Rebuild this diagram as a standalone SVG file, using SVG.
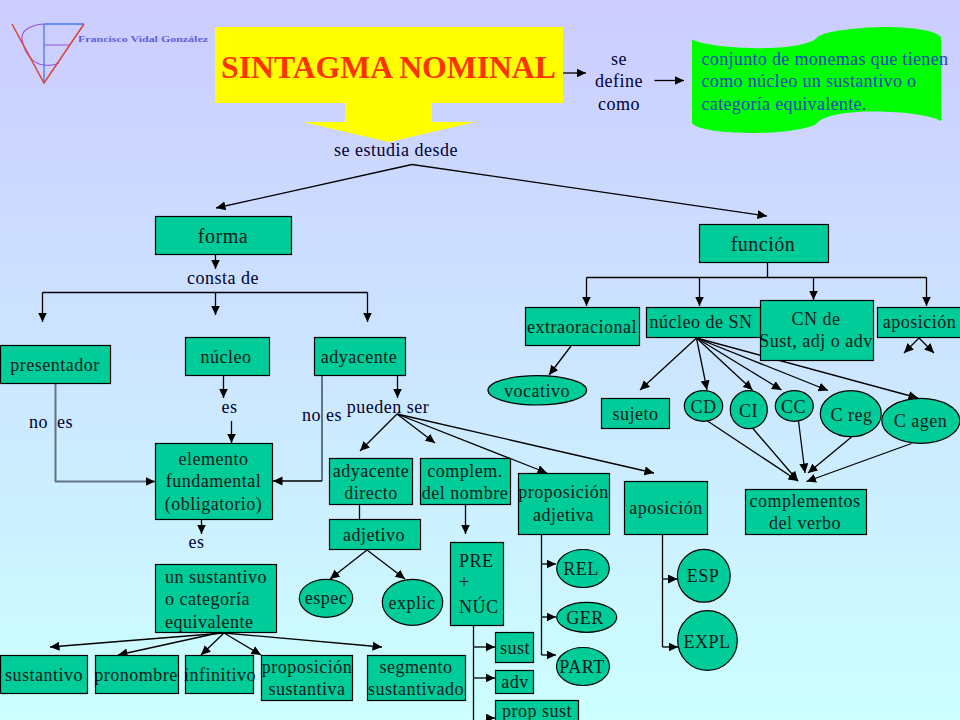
<svg xmlns="http://www.w3.org/2000/svg" width="960" height="720" viewBox="0 0 960 720">
<style>
text{font-family:"Liberation Serif","Times New Roman",serif;font-size:18px;letter-spacing:.5px;fill:#001a1a;text-anchor:middle;white-space:pre}
.b{fill:#00cc99;stroke:#000;stroke-width:1.2}
.l{fill:#000033}
.s{text-anchor:start}
.c line{fill:none;stroke:#000;stroke-width:1.3}
.a{marker-end:url(#h)}
.g{stroke:#5f7585 !important;stroke-width:2 !important}
</style>
<defs>
<linearGradient id="bg" x1="0" y1="0" x2="0" y2="1"><stop offset="0" stop-color="#ccccff"/><stop offset="1" stop-color="#ccffff"/></linearGradient>
<marker id="h" markerUnits="userSpaceOnUse" markerWidth="10" markerHeight="10" refX="9.5" refY="4.5" orient="auto"><path d="M0 0L9.5 4.5L0 9Z" fill="#000"/></marker>
</defs>
<rect width="960" height="720" fill="url(#bg)"/>
<g id="logo" fill="none">
<path d="M44 24C28 25 21 32 22 39C24 52 32 64 44 65C50 66 55 65 59 63M44 45H70" stroke="#9955dd" stroke-width="1.2"/>
<path d="M44 24V83M44 24H84" stroke="#4477ee" stroke-width="1.3"/>
<path d="M12 24L44 83L84 24" stroke="#dd4433" stroke-width="1.5"/>
<text x="78" y="42" class="s" textLength="130" lengthAdjust="spacingAndGlyphs" style="font-size:8.5px;letter-spacing:0;fill:#6060dd;font-weight:bold">Francisco Vidal González</text>
</g>
<g id="titulo">
<path d="M215 27H563V103H432V122H475L389 142L303 122H345V103H215Z" fill="#ffff00"/>
<text x="388.5" y="78" style="font-size:31.7px;letter-spacing:0;font-weight:bold;fill:#ff3300">SINTAGMA NOMINAL</text>
</g>
<g id="definicion">
<path d="M692 39.5C705 46 745 49 770 48C795 47 812 43 816.5 38C822 31 860 27 885 27C910 27 935 30 941 37V121C930 115 900 111 870 111.5C845 112 825 115 817 123C812 129 780 133 755 133C725 133 697 130 692 123Z" fill="#00ff00"/>
<text class="s" x="701.5" y="65" style="fill:#1a44bb;letter-spacing:.33px">conjunto de monemas que tienen</text>
<text class="s" x="701.5" y="87" style="fill:#1a44bb;letter-spacing:.33px">como núcleo un sustantivo o</text>
<text class="s" x="701.5" y="110" style="fill:#1a44bb;letter-spacing:.33px">categoría equivalente.</text>
</g>
<g id="connectors" class="c">
<line class="a" x1="563" y1="73" x2="586" y2="73"/>
<line class="a" x1="654.5" y1="80.5" x2="684" y2="80.5"/>
<line class="a" x1="412" y1="164.5" x2="216" y2="208"/>
<line class="a" x1="412" y1="164.5" x2="767" y2="216"/>
<line class="a" x1="215.5" y1="255" x2="215.5" y2="269"/>
<line class="a" x1="42.5" y1="292.5" x2="42.5" y2="322"/>
<line x1="42.5" y1="292.5" x2="367.5" y2="292.5"/>
<line class="a" x1="215.5" y1="292.5" x2="215.5" y2="315"/>
<line class="a" x1="367.5" y1="292.5" x2="367.5" y2="322"/>
<line class="a" x1="223.5" y1="376" x2="223.5" y2="398"/>
<line class="a" x1="231.5" y1="421" x2="231.5" y2="443"/>
<line class="g" x1="55.5" y1="383" x2="55.5" y2="481.5"/>
<line class="a g" x1="55" y1="481.5" x2="155" y2="481.5"/>
<line class="g" x1="322" y1="376" x2="322" y2="481"/>
<line class="a" x1="322" y1="481" x2="273" y2="481"/>
<line class="a" x1="397.5" y1="376" x2="397.5" y2="398"/>
<line class="a" x1="397" y1="414" x2="360" y2="451"/>
<line class="a" x1="397" y1="414" x2="435" y2="443"/>
<line class="a" x1="397" y1="414" x2="547" y2="473"/>
<line class="a" x1="397" y1="414" x2="654" y2="473"/>
<line x1="359.5" y1="505" x2="359.5" y2="519"/>
<line class="a" x1="465.5" y1="505" x2="465.5" y2="534"/>
<line class="a" x1="367" y1="550" x2="330" y2="579"/>
<line class="a" x1="367" y1="550" x2="405" y2="579"/>
<line class="a" x1="201.5" y1="520" x2="201.5" y2="534"/>
<line class="a" x1="224" y1="633" x2="50" y2="647"/>
<line class="a" x1="218" y1="633" x2="118" y2="655"/>
<line class="a" x1="224" y1="633" x2="201" y2="655"/>
<line class="a" x1="224" y1="633" x2="261" y2="655"/>
<line class="a" x1="224" y1="633" x2="382" y2="647"/>
<line x1="473.5" y1="625" x2="473.5" y2="720"/>
<line class="a" x1="473.5" y1="647" x2="495" y2="647"/>
<line class="a" x1="473.5" y1="678" x2="495" y2="678"/>
<line class="a" x1="487" y1="718" x2="495" y2="718"/>
<line x1="541.5" y1="534" x2="541.5" y2="655"/>
<line class="a" x1="541.5" y1="564" x2="556" y2="564"/>
<line class="a" x1="541.5" y1="617" x2="556" y2="617"/>
<line class="a" x1="541.5" y1="655" x2="556" y2="655"/>
<line x1="662.5" y1="534" x2="662.5" y2="647"/>
<line class="a" x1="662.5" y1="579" x2="677.5" y2="579"/>
<line class="a" x1="662.5" y1="647" x2="678" y2="647"/>
<line x1="767.5" y1="262" x2="767.5" y2="277.5"/>
<line x1="586.5" y1="277.5" x2="926.5" y2="277.5"/>
<line class="a" x1="586.5" y1="277.5" x2="586.5" y2="306"/>
<line class="a" x1="699.5" y1="277.5" x2="699.5" y2="306"/>
<line class="a" x1="813.5" y1="277.5" x2="813.5" y2="300"/>
<line class="a" x1="926.5" y1="277.5" x2="926.5" y2="306"/>
<line class="a" x1="919" y1="338" x2="904" y2="353"/>
<line class="a" x1="919" y1="338" x2="934" y2="353"/>
<line class="a" x1="571" y1="346" x2="549" y2="375"/>
<line class="a" x1="696.5" y1="338" x2="640" y2="390"/>
<line class="a" x1="696.5" y1="338" x2="707" y2="390"/>
<line class="a" x1="696.5" y1="338" x2="752.5" y2="390"/>
<line class="a" x1="696.5" y1="338" x2="781.5" y2="390"/>
<line class="a" x1="696.5" y1="338" x2="828" y2="390.5"/>
<line class="a" x1="696.5" y1="338" x2="918" y2="398"/>
<line class="a" x1="707.5" y1="421" x2="798" y2="481"/>
<line class="a" x1="752.5" y1="428" x2="798" y2="481"/>
<line class="a" x1="798.5" y1="421" x2="805" y2="473"/>
<line class="a" x1="851.5" y1="437" x2="808" y2="473"/>
<line class="a" x1="911.5" y1="443.5" x2="806.5" y2="481.5"/>
</g>
<text class="l" x="619" y="65">se</text><text class="l" x="619" y="87">define</text><text class="l" x="619" y="110">como</text>
<text class="l" x="396" y="155.5">se estudia desde</text>
<text class="l" x="223" y="284">consta de</text>
<text class="l" x="229.5" y="413">es</text>
<text class="l s" x="29" y="428">no</text><text class="l s" x="57" y="428">es</text>
<text class="l s" x="302" y="421">no</text><text class="l s" x="326" y="421">es</text>
<text class="l" x="388" y="413">pueden ser</text>
<text class="l" x="196.5" y="548">es</text>
<g id="forma"><rect class="b" x="155.5" y="216.5" width="136" height="38"/><text x="223" y="243" style="font-size:20px">forma</text></g>
<g id="funcion"><rect class="b" x="699.5" y="224.5" width="129" height="38"/><text x="763" y="251" style="font-size:20px">función</text></g>
<g id="presentador"><rect class="b" x="0.5" y="345.5" width="110" height="38"/><text x="55" y="371">presentador</text></g>
<g id="nucleo"><rect class="b" x="185.5" y="337.5" width="84" height="38"/><text x="226" y="363">núcleo</text></g>
<g id="adyacente"><rect class="b" x="314.5" y="337.5" width="91" height="38"/><text x="359" y="363">adyacente</text></g>
<g id="elemento"><rect class="b" x="155.5" y="443.5" width="117" height="76"/><text x="213.5" y="465">elemento</text><text x="213.5" y="487">fundamental</text><text x="213.5" y="510">(obligatorio)</text></g>
<g id="adyacente-directo"><rect class="b" x="329.5" y="458.5" width="83" height="46"/><text x="371" y="477">adyacente</text><text x="371" y="499">directo</text></g>
<g id="complem"><rect class="b" x="420.5" y="458.5" width="90" height="46"/><text x="465" y="477">complem.</text><text x="465" y="499">del nombre</text></g>
<g id="adjetivo"><rect class="b" x="329.5" y="519.5" width="91" height="30"/><text x="374" y="541">adjetivo</text></g>
<g id="espec"><ellipse class="b" cx="326" cy="598.3" rx="26.7" ry="19"/><text x="326" y="604">espec</text></g>
<g id="explic"><ellipse class="b" cx="412.5" cy="602.3" rx="30.2" ry="23"/><text x="412" y="609">explic</text></g>
<g id="pre-nuc"><rect class="b" x="450.5" y="542.5" width="53" height="83"/><text class="s" x="459" y="567">PRE</text><text class="s" x="459" y="588">+</text><text class="s" x="459" y="612.5">NÚC</text></g>
<g id="sust"><rect class="b" x="495.5" y="632.5" width="38" height="30"/><text x="515" y="654">sust</text></g>
<g id="adv"><rect class="b" x="495.5" y="670.5" width="38" height="23"/><text x="515" y="688">adv</text></g>
<g id="prop-sust"><rect class="b" x="495.5" y="700.5" width="83" height="30"/><text x="537" y="717">prop sust</text></g>
<g id="prop-adjetiva"><rect class="b" x="518.5" y="473.5" width="91" height="61"/><text x="563.5" y="498">proposición</text><text x="563.5" y="521">adjetiva</text></g>
<g id="aposicion-b"><rect class="b" x="624.5" y="481.5" width="83" height="53"/><text x="666" y="514">aposición</text></g>
<g id="rel"><ellipse class="b" cx="583" cy="568.5" rx="26.3" ry="19"/><text x="581" y="575">REL</text></g>
<g id="ger"><ellipse class="b" cx="586.7" cy="617.3" rx="30" ry="15"/><text x="585" y="624">GER</text></g>
<g id="part"><ellipse class="b" cx="583" cy="666.5" rx="26.5" ry="19"/><text x="582" y="673">PART</text></g>
<g id="esp"><ellipse class="b" cx="703.8" cy="575.8" rx="26.4" ry="26.4"/><text x="703" y="582">ESP</text></g>
<g id="expl"><ellipse class="b" cx="707.5" cy="640.5" rx="29.8" ry="29.8"/><text x="707" y="648">EXPL</text></g>
<g id="un-sustantivo"><rect class="b" x="155.5" y="564.5" width="121" height="68"/><text class="s" x="165" y="583">un sustantivo</text><text class="s" x="165" y="605">o categoría</text><text class="s" x="165" y="628">equivalente</text></g>
<g id="sustantivo"><rect class="b" x="0.5" y="655.5" width="87" height="38"/><text x="44" y="681">sustantivo</text></g>
<g id="pronombre"><rect class="b" x="95.5" y="655.5" width="83" height="38"/><text x="136" y="681">pronombre</text></g>
<g id="infinitivo"><rect class="b" x="185.5" y="655.5" width="68" height="38"/><text x="220" y="681">infinitivo</text></g>
<g id="prop-sustantiva"><rect class="b" x="261.5" y="655.5" width="91" height="45"/><text x="307" y="673">proposición</text><text x="307" y="695">sustantiva</text></g>
<g id="segmento"><rect class="b" x="367.5" y="655.5" width="98" height="45"/><text x="416" y="673">segmento</text><text x="416" y="695">sustantivado</text></g>
<g id="extraoracional"><rect class="b" x="525.5" y="307.5" width="114" height="38"/><text x="582" y="333">extraoracional</text></g>
<g id="nucleo-sn"><rect class="b" x="646.5" y="307.5" width="120" height="30"/><text x="701" y="328">núcleo de SN</text></g>
<g id="cn"><rect class="b" x="760.5" y="300.5" width="113" height="60"/><text x="816" y="325">CN de</text><text x="816" y="347">Sust, adj o adv</text></g>
<g id="aposicion-a"><rect class="b" x="877.5" y="307.5" width="84" height="30"/><text x="919.5" y="328">aposición</text></g>
<g id="vocativo"><ellipse class="b" cx="537.3" cy="390.3" rx="49.3" ry="14.7"/><text x="537" y="397">vocativo</text></g>
<g id="sujeto"><rect class="b" x="601.5" y="398.5" width="68" height="30"/><text x="635.5" y="420">sujeto</text></g>
<g id="cd"><ellipse class="b" cx="703.5" cy="406" rx="19.2" ry="15.3"/><text x="703.5" y="412.5">CD</text></g>
<g id="ci"><ellipse class="b" cx="748.8" cy="409.7" rx="18.5" ry="19"/><text x="748.5" y="416.5">CI</text></g>
<g id="cc"><ellipse class="b" cx="794.3" cy="406" rx="19" ry="15.3"/><text x="793.5" y="412.5">CC</text></g>
<g id="c-reg"><ellipse class="b" cx="850.8" cy="413.7" rx="30.5" ry="23"/><text x="851.5" y="420.5">C reg</text></g>
<g id="c-agen"><ellipse class="b" cx="920.8" cy="420.8" rx="39" ry="22.5"/><text x="920.5" y="427">C agen</text></g>
<g id="complementos"><rect class="b" x="745.5" y="489.5" width="121" height="45"/><text x="805" y="507">complementos</text><text x="805" y="528.5">del verbo</text></g>
</svg>
